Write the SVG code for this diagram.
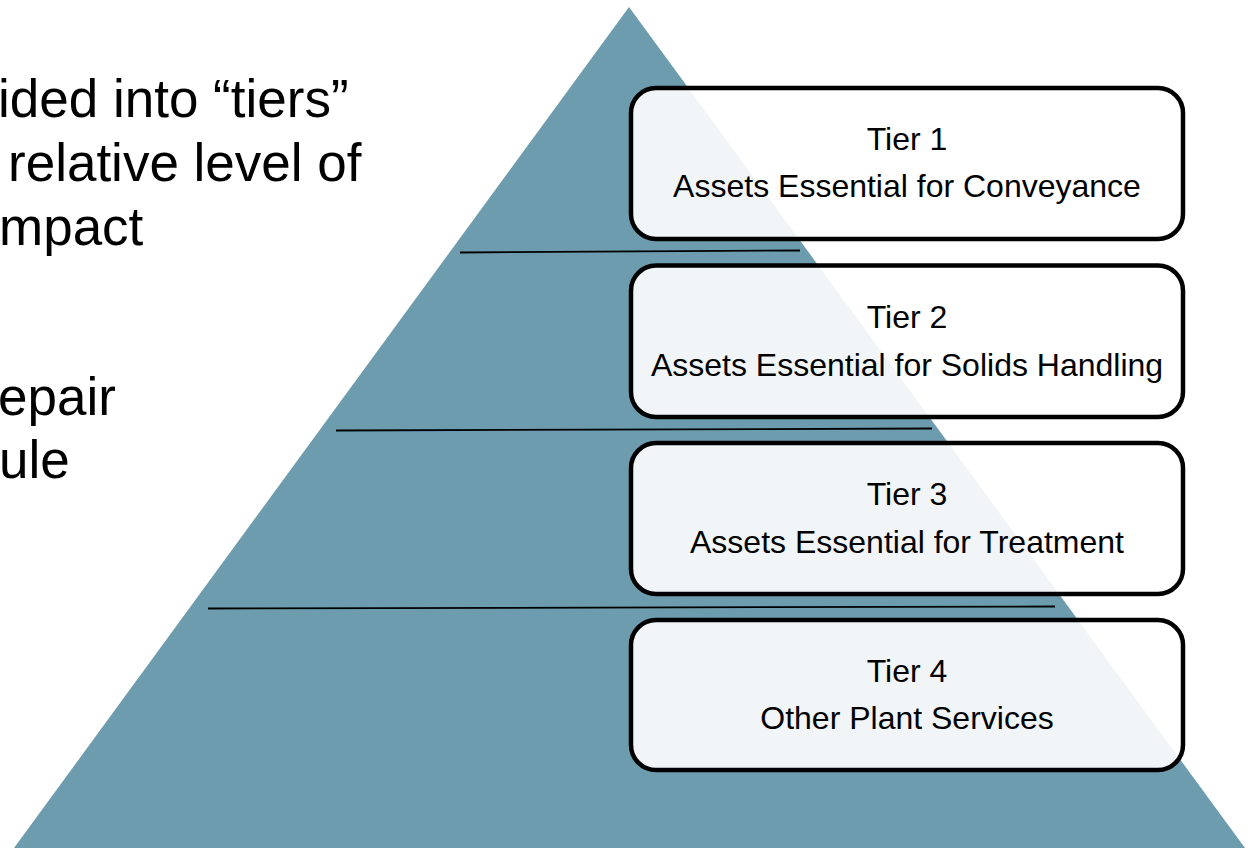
<svg xmlns="http://www.w3.org/2000/svg" width="1248" height="848" viewBox="0 0 1248 848">
  <style>
    .bg { fill: #ffffff; }
    .tri { fill: #6d9caf; }
    .box { fill: #ffffff; fill-opacity: 0.9; stroke: #000000; stroke-width: 4.5; }
    .label { font-family: "Liberation Sans", Arial, sans-serif; font-size: 32px; fill: #000000; text-anchor: middle; }
    .body { font-family: "Liberation Sans", Arial, sans-serif; font-size: 53px; fill: #000000; }
    .divider { stroke: #000000; stroke-width: 1.8; fill: none; }
  </style>
  <rect class="bg" x="0" y="0" width="1248" height="848"/>
  <g id="body-text">
    <text class="body" x="-2" y="117">ided into “tiers”</text>
    <text class="body" x="8" y="181">relative level of</text>
    <text class="body" x="-1" y="245">mpact</text>
    <text class="body" x="-2" y="415">epair</text>
    <text class="body" x="-1" y="478">ule</text>
  </g>
  <g id="pyramid">
    <polygon class="tri" points="629,7 1245,848 14,848"/>
  </g>
  <g id="connectors">
    <line class="divider" x1="460" y1="252.5" x2="800" y2="250.5"/>
    <line class="divider" x1="336" y1="430.5" x2="932" y2="428.5"/>
    <line class="divider" x1="208" y1="608.5" x2="1055" y2="606.5"/>
  </g>
  <g id="tier1">
    <rect class="box" x="631" y="88" width="552" height="151" rx="25" ry="25"/>
    <text class="label" x="907" y="150">Tier 1</text>
    <text class="label" x="907" y="197">Assets Essential for Conveyance</text>
  </g>
  <g id="tier2">
    <rect class="box" x="631" y="265.5" width="552" height="151.5" rx="25" ry="25"/>
    <text class="label" x="907" y="328">Tier 2</text>
    <text class="label" x="907" y="376">Assets Essential for Solids Handling</text>
  </g>
  <g id="tier3">
    <rect class="box" x="631" y="443" width="552" height="151" rx="25" ry="25"/>
    <text class="label" x="907" y="505">Tier 3</text>
    <text class="label" x="907" y="553">Assets Essential for Treatment</text>
  </g>
  <g id="tier4">
    <rect class="box" x="631" y="620" width="552" height="150" rx="25" ry="25"/>
    <text class="label" x="907" y="682">Tier 4</text>
    <text class="label" x="907" y="729">Other Plant Services</text>
  </g>
</svg>
